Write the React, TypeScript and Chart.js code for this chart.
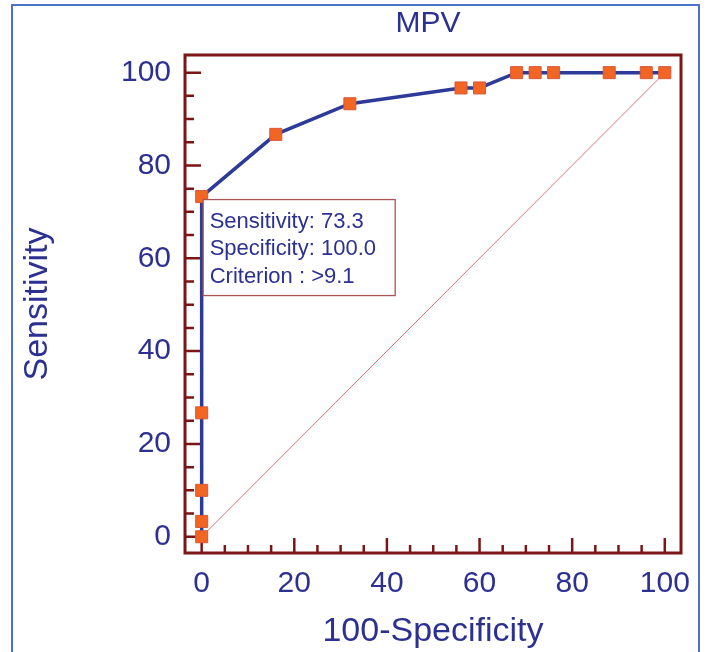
import React, { useEffect, useRef } from 'react';
import { Chart, registerables } from 'chart.js';

Chart.register(...registerables);

// ---- data ----
const falsePositiveRate = [0, 0, 0, 0, 0, 16, 32, 56, 60, 68, 72, 76, 88, 96, 100];
const sensitivity = [0, 3.3, 10, 26.7, 73.3, 86.7, 93.3, 96.7, 96.7, 100, 100, 100, 100, 100, 100];
const diagonalX = [0, 100];
const diagonalY = [0, 100];
const majorTicks = [0, 20, 40, 60, 80, 100];
const minorTicks = [5, 10, 15, 25, 30, 35, 45, 50, 55, 65, 70, 75, 85, 90, 95];
const annotationAnchor = [0, 73.3];
const annotationLines = ['Sensitivity: 73.3', 'Specificity: 100.0', 'Criterion : >9.1'];
const chartTitle = 'MPV';
const xAxisTitle = '100-Specificity';
const yAxisTitle = 'Sensitivity';

const NAVY = '#2c3090';
const FRAME = '#7a1616';
const FONT = "'Liberation Sans', Arial, Helvetica, sans-serif";

const decorPlugin = {
  id: 'rocDecor',
  beforeDraw(chart: any) {
    const ctx = chart.ctx;
    ctx.save();
    ctx.strokeStyle = '#4d72c6';
    ctx.lineWidth = 2;
    ctx.beginPath();
    ctx.moveTo(12, 700);
    ctx.lineTo(12, 5);
    ctx.lineTo(699, 5);
    ctx.lineTo(699, 700);
    ctx.stroke();
    ctx.restore();
  },
  beforeDatasetsDraw(chart: any) {
    const { ctx, chartArea, scales } = chart;
    const { left, right, top, bottom } = chartArea;
    ctx.save();
    ctx.strokeStyle = FRAME;
    ctx.lineWidth = 2.5;
    ctx.beginPath();
    majorTicks.forEach((v) => {
      const py = scales.y.getPixelForValue(v);
      ctx.moveTo(left, py);
      ctx.lineTo(left + 16, py);
      const px = scales.x.getPixelForValue(v);
      ctx.moveTo(px, bottom);
      ctx.lineTo(px, bottom - 15);
    });
    minorTicks.forEach((v) => {
      const py = scales.y.getPixelForValue(v);
      ctx.moveTo(left, py);
      ctx.lineTo(left + 9, py);
      const px = scales.x.getPixelForValue(v);
      ctx.moveTo(px, bottom);
      ctx.lineTo(px, bottom - 8);
    });
    ctx.stroke();
    ctx.lineWidth = 3;
    ctx.strokeRect(left, top, right - left, bottom - top);
    ctx.restore();
  },
  afterDatasetsDraw(chart: any) {
    const { ctx, chartArea, scales } = chart;
    const px = scales.x.getPixelForValue(annotationAnchor[0]);
    const py = scales.y.getPixelForValue(annotationAnchor[1]);
    ctx.save();
    const bx = px + 1.5;
    const by = py + 3;
    ctx.fillStyle = '#ffffff';
    ctx.fillRect(bx, by, 192, 96);
    ctx.strokeStyle = '#a85555';
    ctx.lineWidth = 1.3;
    ctx.strokeRect(bx, by, 192, 96);
    ctx.fillStyle = NAVY;
    ctx.font = `22px ${FONT}`;
    ctx.textAlign = 'left';
    ctx.textBaseline = 'middle';
    annotationLines.forEach((t, i) => {
      ctx.fillText(t, px + 8, py + 25 + i * 27.5);
    });
    // chart title
    ctx.font = `30px ${FONT}`;
    ctx.textAlign = 'center';
    ctx.fillText(chartTitle, (chartArea.left + chartArea.right) / 2 - 5, 24);
    ctx.restore();
  },
};

export default function App() {
  const ref = useRef<HTMLCanvasElement | null>(null);
  useEffect(() => {
    document.body.style.margin = '0';
    const canvas = ref.current;
    if (!canvas) return;
    const chart = new Chart(canvas, {
      type: 'scatter',
      data: {
        datasets: [
          {
            label: 'ROC',
            data: falsePositiveRate.map((x, i) => ({ x, y: sensitivity[i] })),
            showLine: true,
            borderColor: '#2e3a98',
            borderWidth: 3.5,
            pointStyle: 'rect',
            pointRadius: 8.5,
            pointBackgroundColor: '#f26522',
            pointBorderColor: '#d9583a',
            pointBorderWidth: 1,
          },
          {
            label: 'Diagonal',
            data: diagonalX.map((x, i) => ({ x, y: diagonalY[i] })),
            showLine: true,
            borderColor: '#d97474',
            borderWidth: 1,
            pointRadius: 0,
          },
        ],
      },
      options: {
        responsive: false,
        animation: false,
        layout: { padding: { left: 0, right: 27, top: 55, bottom: 0 } },
        plugins: {
          legend: { display: false },
          tooltip: { enabled: false },
          title: { display: false },
        },
        scales: {
          x: {
            type: 'linear',
            min: -3.6,
            max: 103.5,
            afterBuildTicks: (s: any) => {
              s.ticks = majorTicks.map((v) => ({ value: v }));
            },
            afterFit: (s: any) => {
              s.height = 99;
            },
            grid: { display: false },
            border: { display: false },
            ticks: {
              color: NAVY,
              padding: 5,
              maxRotation: 0,
              font: { family: FONT, size: 30 },
            },
            title: {
              display: true,
              text: xAxisTitle,
              color: NAVY,
              font: { family: FONT, size: 34 },
              padding: { top: 0, bottom: 0 },
            },
          },
          y: {
            type: 'linear',
            min: -3.5,
            max: 103.8,
            afterBuildTicks: (s: any) => {
              s.ticks = majorTicks.map((v) => ({ value: v }));
            },
            afterFit: (s: any) => {
              s.width = 185;
            },
            grid: { display: false },
            border: { display: false },
            ticks: {
              color: NAVY,
              padding: 6,
              font: { family: FONT, size: 30 },
            },
            title: {
              display: true,
              text: yAxisTitle,
              color: NAVY,
              font: { family: FONT, size: 34 },
              padding: { top: 17, bottom: 0 },
            },
          },
        },
      },
      plugins: [decorPlugin],
    });
    return () => chart.destroy();
  }, []);
  return <canvas ref={ref} width={708} height={652} style={{ display: 'block', width: 708, height: 652 }} />;
}
